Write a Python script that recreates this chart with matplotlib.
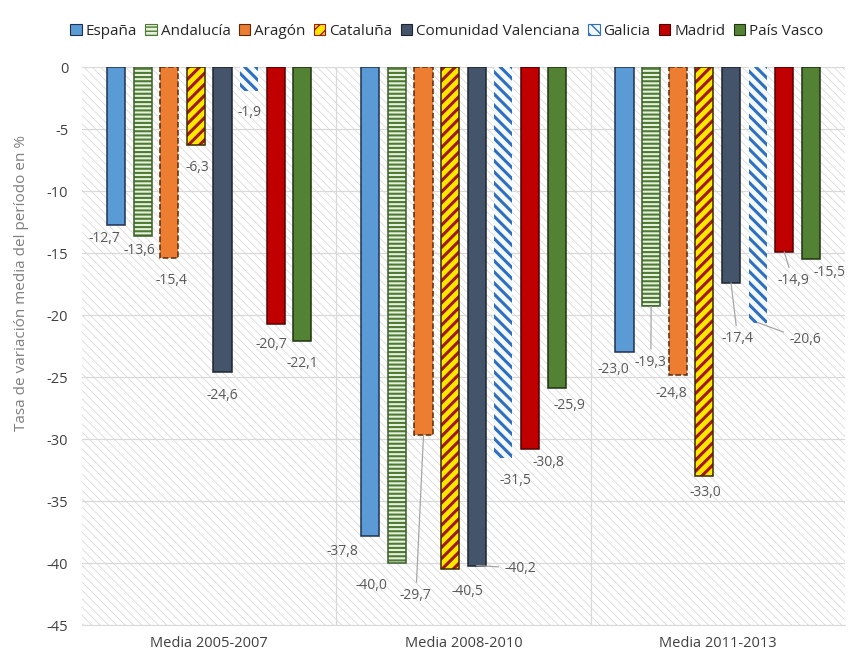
import matplotlib
matplotlib.use('Agg')
import matplotlib.pyplot as plt
from matplotlib.patches import Patch, Rectangle
import numpy as np

periods = ['Media 2005-2007', 'Media 2008-2010', 'Media 2011-2013']
regions = ['España', 'Andalucía', 'Aragón', 'Cataluña', 'Comunidad Valenciana',
           'Galicia', 'Madrid', 'País Vasco']
espana = [-12.7, -37.8, -23.0]
andalucia = [-13.6, -40.0, -19.3]
aragon = [-15.4, -29.7, -24.8]
cataluna = [-6.3, -40.5, -33.0]
valencia = [-24.6, -40.2, -17.4]
galicia = [-1.9, -31.5, -20.6]
madrid = [-20.7, -30.8, -14.9]
pais_vasco = [-22.1, -25.9, -15.5]
series = [espana, andalucia, aragon, cataluna, valencia, galicia, madrid, pais_vasco]
yticks = [0, -5, -10, -15, -20, -25, -30, -35, -40, -45]

# style: face, edge, edge style, hatch, hatch colour, hatch width
styles = [
    ('#5B9BD5', '#1F3050', '-', None, None, 0),
    ('#E6F1DD', '#3B5E27', '-', '----', '#4E7A33', 1.5),
    ('#ED7D31', '#5A2A0A', '--', None, None, 0),
    ('#FFE800', '#3A2A00', '-', '///', '#A01818', 2.2),
    ('#44546A', '#1C2430', '-', None, None, 0),
    ('#F4F9FF', 'none', '-', '\\\\\\', '#2F6FC0', 2.2),
    ('#C00000', '#500000', '-', None, None, 0),
    ('#548235', '#1E3310', '-', None, None, 0),
]

# label positions (x, y) in data units, and whether a leader line is drawn
label_pos = [
    [(-0.41, -13.8), (0.526, -39.1), (1.588, -24.4)],
    [(-0.276, -14.8), (0.640, -41.8), (1.737, -23.8)],
    [(-0.150, -17.2), (0.813, -42.6), (1.816, -26.3)],
    [(-0.048, -8.1), (1.014, -42.3), (1.950, -34.3)],
    [(0.050, -26.5), (1.222, -40.4), (2.079, -21.9)],
    [(0.157, -3.7), (1.203, -33.3), (2.343, -22.0)],
    [(0.243, -22.4), (1.336, -31.9), (2.296, -17.2)],
    [(0.365, -23.9), (1.415, -27.3), (2.441, -16.6)],
]
leaders = {(2, 1), (4, 1), (1, 2), (4, 2), (5, 2), (6, 2)}

plt.rcParams['font.family'] = ['Open Sans', 'DejaVu Sans']
fig = plt.figure(figsize=(8.59, 6.58), dpi=100)
ax = fig.add_axes([0.0955, 0.05, 0.888, 0.848])

x = np.arange(len(periods))
step, width = 0.1047, 0.071

with plt.rc_context({'hatch.linewidth': 0.5}):
    bg = Rectangle((0, 0), 1, 1, transform=ax.transAxes, facecolor='white',
                   edgecolor='#D4D4D4', hatch='\\\\\\\\', linewidth=0, zorder=0)
    if hasattr(bg, 'set_hatch_linewidth'):
        bg.set_hatch_linewidth(0.5)
    ax.add_patch(bg)

for j, (vals, st) in enumerate(zip(series, styles)):
    face, edge, ls, hatch, hcol, hlw = st
    xs = x + (j - 3.5) * step
    ax.bar(xs, vals, width, color=face, edgecolor='none', zorder=2)
    if hatch:
        with plt.rc_context({'hatch.linewidth': hlw}):
            bars = ax.bar(xs, vals, width, color='none', edgecolor=hcol,
                          hatch=hatch, linewidth=0, zorder=3)
            for b in bars:
                if hasattr(b, 'set_hatch_linewidth'):
                    b.set_hatch_linewidth(hlw)
    if edge != 'none':
        ax.bar(xs, vals, width, color='none', edgecolor=edge, linewidth=1.1,
               linestyle=ls, zorder=4)
    for i, v in enumerate(vals):
        tx, ty = label_pos[j][i]
        txt = f'{v:.1f}'.replace('.', ',')
        if (j, i) in leaders:
            ax.annotate(txt, xy=(xs[i], v), xytext=(tx, ty), ha='center', va='center',
                        fontsize=10, color='#595959', zorder=5,
                        arrowprops=dict(arrowstyle='-', color='#A6A6A6', lw=0.9,
                                        shrinkA=2, shrinkB=0))
        else:
            ax.text(tx, ty, txt, ha='center', va='center', fontsize=10,
                    color='#595959', zorder=5)

ax.set_xlim(-0.5, 2.5)
ax.set_ylim(-45, 0)
ax.set_yticks(yticks)
ax.set_yticklabels([str(t) for t in yticks])
ax.set_xticks(x)
ax.set_xticklabels(periods)
for b in [0.5, 1.5]:
    ax.axvline(b, color='#D9D9D9', lw=0.9, zorder=1)
ax.yaxis.grid(True, color='#D9D9D9', lw=0.9, zorder=1)
ax.set_axisbelow(True)
for s in ['top', 'right', 'left']:
    ax.spines[s].set_visible(False)
ax.spines['bottom'].set_color('#D9D9D9')
ax.tick_params(axis='x', length=0, labelsize=10.5, colors='#404040', pad=8)
ax.tick_params(axis='y', length=0, labelsize=10.5, colors='#404040', pad=10)
ax.set_ylabel('Tasa de variación media del período en %', fontsize=11,
              color='#7F7F7F')
ax.yaxis.set_label_coords(-0.07, 0.613)

handles = []
for st in styles:
    face, edge, ls, hatch, hcol, hlw = st
    handles.append(Patch(facecolor=face, edgecolor=hcol if hatch else edge,
                         hatch=hatch, linewidth=0.8))
fig.legend(handles, regions, loc='upper center', bbox_to_anchor=(0.52, 0.985),
           ncol=8, frameon=False, fontsize=11, handlelength=0.75,
           handleheight=0.75, handletextpad=0.25, columnspacing=0.55,
           labelcolor='#262626')

fig.savefig('out.png', dpi=100)
